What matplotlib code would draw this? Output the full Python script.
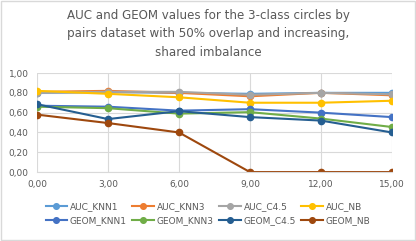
import matplotlib
matplotlib.use("Agg")
import matplotlib.pyplot as plt
from matplotlib.patches import Rectangle

x_vals = [0, 3, 6, 9, 12, 15]
x_labels = ["0,00", "3,00", "6,00", "9,00", "12,00", "15,00"]

auc_knn1 = [0.80, 0.81, 0.80, 0.79, 0.80, 0.80]
auc_knn3 = [0.81, 0.82, 0.80, 0.765, 0.80, 0.775]
auc_c45 = [0.80, 0.81, 0.81, 0.78, 0.80, 0.785]
auc_nb = [0.82, 0.79, 0.755, 0.70, 0.70, 0.72]
geom_knn1 = [0.67, 0.66, 0.62, 0.635, 0.60, 0.555]
geom_knn3 = [0.66, 0.645, 0.59, 0.605, 0.54, 0.455]
geom_c45 = [0.685, 0.535, 0.615, 0.555, 0.52, 0.40]
geom_nb = [0.58, 0.495, 0.40, 0.0, 0.0, 0.0]

series = [
    ("AUC_KNN1", auc_knn1, "#5B9BD5"),
    ("AUC_KNN3", auc_knn3, "#ED7D31"),
    ("AUC_C4.5", auc_c45, "#A5A5A5"),
    ("AUC_NB", auc_nb, "#FFC000"),
    ("GEOM_KNN1", geom_knn1, "#4472C4"),
    ("GEOM_KNN3", geom_knn3, "#70AD47"),
    ("GEOM_C4.5", geom_c45, "#255E91"),
    ("GEOM_NB", geom_nb, "#9E480E"),
]

text_color = "#595959"

fig = plt.figure(figsize=(4.16, 2.41), dpi=100)
fig.patches.append(Rectangle((0.002, 0.004), 0.996, 0.992, transform=fig.transFigure,
                             fill=False, edgecolor="#D9D9D9", linewidth=1))
ax = fig.add_axes([0.089, 0.286, 0.853, 0.411])

handles = []
for name, vals, color in series:
    h, = ax.plot(x_vals, vals, color=color, linewidth=1.5, marker="o", markersize=4.5, label=name)
    handles.append(h)

ax.set_xlim(0, 15)
ax.set_ylim(0, 1.0)
ax.set_xticks(x_vals)
ax.set_xticklabels(x_labels)
ax.set_yticks([0, 0.2, 0.4, 0.6, 0.8, 1.0])
ax.set_yticklabels(["0,00", "0,20", "0,40", "0,60", "0,80", "1,00"])
ax.grid(True, color="#D9D9D9", linewidth=0.8)
ax.set_axisbelow(True)
for side in ["top", "right", "left"]:
    ax.spines[side].set_visible(False)
ax.spines["bottom"].set_color("#D9D9D9")
ax.tick_params(axis="both", length=0, labelsize=6.5, labelcolor=text_color, pad=6)
for lbl in ax.get_xticklabels() + ax.get_yticklabels():
    lbl.set_clip_on(False)

fig.text(0.5, 1 - 9 / 241, "AUC and GEOM values for the 3-class circles by\n"
         "pairs dataset with 50% overlap and increasing,\nshared imbalance",
         ha="center", va="top", fontsize=8.6, color=text_color, linespacing=1.55)

# legend fills column by column, so interleave to get AUC row on top
order = [0, 4, 1, 5, 2, 6, 3, 7]
fig.legend([handles[i] for i in order], [series[i][0] for i in order],
           loc="center", bbox_to_anchor=(0.5, 0.114), ncol=4, frameon=False,
           fontsize=6.5, labelcolor=text_color, handlelength=2.4, handletextpad=0.3,
           columnspacing=0.6, labelspacing=0.6, markerscale=0.9)

fig.savefig("out.png", dpi=100)
